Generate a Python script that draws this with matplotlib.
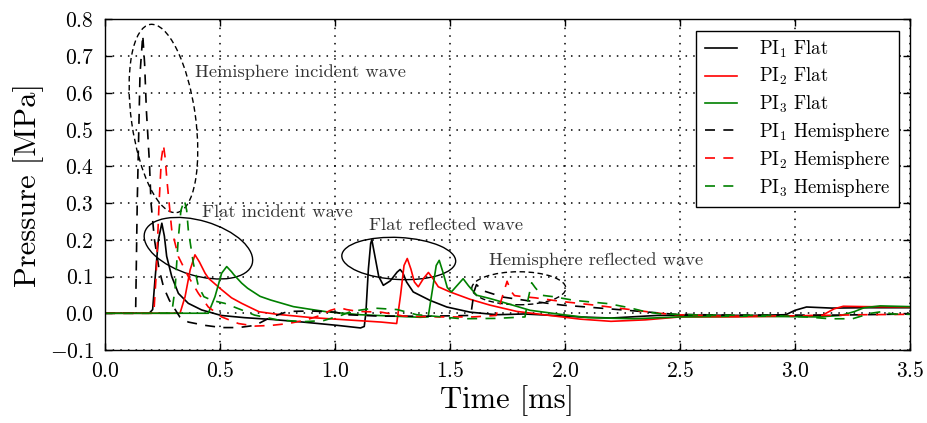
import matplotlib
matplotlib.use("Agg")
import matplotlib.pyplot as plt
from matplotlib import ticker
from matplotlib.patches import Ellipse
from matplotlib.transforms import ScaledTranslation

plt.rcParams["font.family"] = "serif"
plt.rcParams["font.serif"] = ["cmr10"]
plt.rcParams["mathtext.fontset"] = "cm"
plt.rcParams["axes.formatter.use_mathtext"] = True

# time [ms], pressure [MPa]
t_pi1_flat = [0.0, 0.192, 0.207, 0.217, 0.232, 0.247, 0.258, 0.268, 0.29, 0.319, 0.362,
              0.42, 0.505, 0.606, 0.727, 0.86, 1.01, 1.111, 1.127, 1.134, 1.145, 1.155,
              1.16, 1.172, 1.19, 1.21, 1.24, 1.27, 1.283, 1.295, 1.311, 1.34, 1.413,
              1.486, 1.587, 1.703, 1.82, 1.92, 2.06, 2.2, 2.4, 2.6, 2.8, 2.96, 3.0,
              3.05, 3.16, 3.3, 3.5]
p_pi1_flat = [0.0, 0.0, 0.01, 0.09, 0.20, 0.245, 0.21, 0.155, 0.10, 0.054, 0.027,
              0.009, -0.006, -0.012, -0.017, -0.024, -0.033, -0.040, -0.036, 0.0, 0.12, 0.19,
              0.20, 0.16, 0.10, 0.076, 0.088, 0.112, 0.119, 0.11, 0.085, 0.058, 0.035,
              0.017, 0.003, -0.004, -0.002, -0.005, -0.01, -0.013, -0.006, -0.005, -0.006, -0.004, 0.008,
              0.017, 0.014, 0.015, 0.015]

t_pi2_flat = [0.0, 0.326, 0.348, 0.37, 0.391, 0.41, 0.435, 0.45, 0.507, 0.55, 0.594, 0.63,
              0.67, 0.75, 0.9, 1.05, 1.2, 1.268, 1.285, 1.30, 1.314, 1.33, 1.345, 1.362,
              1.385, 1.406, 1.425, 1.449, 1.5, 1.587, 1.674, 1.79, 1.92, 2.065, 2.2, 2.35,
              2.5, 2.75, 3.05, 3.12, 3.17, 3.21, 3.3, 3.5]
p_pi2_flat = [0.0, 0.0, 0.045, 0.118, 0.159, 0.14, 0.109, 0.095, 0.064, 0.042, 0.027, 0.016,
              0.004, -0.003, -0.012, -0.018, -0.024, -0.028, 0.05, 0.13, 0.149, 0.12, 0.085, 0.072,
              0.095, 0.111, 0.095, 0.072, 0.058, 0.038, 0.022, 0.005, -0.005, -0.016, -0.022, -0.018,
              -0.01, -0.01, -0.007, -0.005, 0.012, 0.019, 0.018, 0.017]

t_pi3_flat = [0.0, 0.449, 0.478, 0.507, 0.529, 0.55, 0.56, 0.594, 0.62, 0.674, 0.72, 0.819,
              0.9, 0.964, 1.109, 1.37, 1.405, 1.42, 1.44, 1.453, 1.47, 1.488, 1.506, 1.53,
              1.557, 1.58, 1.616, 1.674, 1.746, 1.848, 1.993, 2.1, 2.3, 2.5, 2.8, 3.1,
              3.2, 3.26, 3.3, 3.37, 3.5]
p_pi3_flat = [0.0, 0.0, 0.045, 0.109, 0.127, 0.113, 0.105, 0.082, 0.068, 0.046, 0.036, 0.018,
              0.01, 0.004, -0.004, -0.011, -0.01, 0.05, 0.13, 0.144, 0.11, 0.07, 0.058, 0.075,
              0.094, 0.075, 0.049, 0.040, 0.027, 0.008, -0.004, -0.012, -0.015, -0.01, -0.008, -0.01,
              -0.006, 0.005, 0.015, 0.02, 0.018]

t_pi1_hemi = [0.0, 0.133, 0.14, 0.152, 0.164, 0.172, 0.18, 0.193, 0.20, 0.215, 0.235,
              0.255, 0.28, 0.31, 0.325, 0.362, 0.435, 0.507, 0.58, 0.652, 0.724, 0.797,
              0.9, 1.0, 1.05, 1.2, 1.4, 1.59, 1.605, 1.615, 1.64, 1.73, 1.85, 1.99,
              2.094, 2.27, 2.384, 2.48, 2.7, 3.0, 3.2, 3.5]
p_pi1_hemi = [0.0, 0.0, 0.3, 0.65, 0.757, 0.68, 0.55, 0.41, 0.30, 0.20, 0.12,
              0.07, 0.035, 0.005, -0.01, -0.024, -0.033, -0.039, -0.039, -0.033, -0.01, 0.005,
              0.006, 0.003, -0.004, -0.008, -0.008, -0.006, 0.06, 0.078, 0.062, 0.044, 0.033, 0.022,
              0.017, 0.008, 0.002, -0.003, -0.005, -0.005, -0.005, -0.002]

t_pi2_hemi = [0.0, 0.212, 0.222, 0.235, 0.245, 0.254, 0.262, 0.269, 0.29, 0.319, 0.362,
              0.406, 0.449, 0.507, 0.58, 0.652, 0.724, 0.797, 0.87, 0.94, 0.98, 1.02,
              1.05, 1.1, 1.2, 1.3, 1.45, 1.6, 1.7, 1.72, 1.748, 1.765, 1.78, 1.82,
              1.87, 1.95, 2.0, 2.13, 2.27, 2.41, 2.48, 2.7, 3.0, 3.3, 3.5]
p_pi2_hemi = [0.0, 0.0, 0.1, 0.3, 0.42, 0.458, 0.42, 0.363, 0.227, 0.154, 0.10,
              0.054, 0.017, -0.01, -0.028, -0.035, -0.033, -0.028, -0.019, -0.005, 0.008, 0.015,
              0.01, 0.005, 0.003, -0.008, -0.01, -0.01, -0.006, 0.03, 0.087, 0.06, 0.048, 0.045,
              0.042, 0.035, 0.031, 0.022, 0.011, 0.0, -0.004, -0.008, -0.007, -0.004, -0.003]

t_pi3_hemi = [0.0, 0.29, 0.305, 0.318, 0.33, 0.345, 0.355, 0.362, 0.384, 0.406, 0.43,
              0.465, 0.52, 0.594, 0.65, 0.75, 0.86, 0.95, 1.03, 1.07, 1.17, 1.27,
              1.355, 1.43, 1.55, 1.7, 1.826, 1.84, 1.855, 1.87, 1.898, 1.95, 2.04,
              2.19, 2.28, 2.35, 2.42, 2.6, 2.9, 3.05, 3.15, 3.25, 3.33, 3.385, 3.42, 3.5]
p_pi3_hemi = [0.0, 0.0, 0.07, 0.2, 0.28, 0.308, 0.28, 0.227, 0.136, 0.073, 0.045,
              0.035, 0.027, 0.009, -0.005, -0.018, -0.023, -0.02, -0.005, 0.005, 0.014, 0.01,
              -0.004, -0.008, -0.015, -0.014, -0.01, 0.04, 0.083, 0.07, 0.049, 0.045, 0.035,
              0.026, 0.015, 0.004, -0.002, -0.005, -0.006, -0.01, -0.015, -0.015, 0.0, 0.005, -0.002, -0.003]

labels = [r"PI$_1$ Flat", r"PI$_2$ Flat", r"PI$_3$ Flat",
          r"PI$_1$ Hemisphere", r"PI$_2$ Hemisphere", r"PI$_3$ Hemisphere"]
colors = ["k", "r", "g"]

fig = plt.figure(figsize=(9.27, 4.23), dpi=100)
ax = fig.add_axes([0.1133, 0.1726, 0.8684, 0.7818])

flat = [(t_pi1_flat, p_pi1_flat), (t_pi2_flat, p_pi2_flat), (t_pi3_flat, p_pi3_flat)]
hemi = [(t_pi1_hemi, p_pi1_hemi), (t_pi2_hemi, p_pi2_hemi), (t_pi3_hemi, p_pi3_hemi)]
for (t, p), c, lab in zip(flat, colors, labels[:3]):
    ax.plot(t, p, color=c, lw=1.2, label=lab)
for (t, p), c, lab in zip(hemi, colors, labels[3:]):
    ax.plot(t, p, color=c, lw=1.2, dashes=(6, 5), label=lab)


def add_ellipse(ax, t, p, w, h, angle, ls):
    # size in inches on screen, centre in data coordinates
    trans = fig.dpi_scale_trans + ScaledTranslation(t, p, ax.transData)
    ax.add_patch(Ellipse((0, 0), w, h, angle=angle, transform=trans,
                         fill=False, ec="k", lw=1.0, ls=ls))


add_ellipse(ax, 0.254, 0.530, 0.64, 1.90, 8, (0, (4, 2.5)))
add_ellipse(ax, 0.406, 0.177, 1.12, 0.55, -16.5, "-")
add_ellipse(ax, 1.277, 0.149, 1.14, 0.42, -3, "-")
add_ellipse(ax, 1.799, 0.068, 0.94, 0.33, 0, (0, (4, 2.5)))

ann = dict(fontsize=13.3, ha="left", va="center", color="0.2")
ax.text(0.391, 0.657, "Hemisphere incident wave", **ann)
ax.text(0.423, 0.274, "Flat incident wave", **ann)
ax.text(1.149, 0.240, "Flat reflected wave", **ann)
ax.text(1.671, 0.145, "Hemisphere reflected wave", **ann)

ax.set_xlim(0, 3.5)
ax.set_ylim(-0.1, 0.8)
ax.xaxis.set_major_locator(ticker.MultipleLocator(0.5))
ax.yaxis.set_major_locator(ticker.MultipleLocator(0.1))
fmt = ticker.FuncFormatter(lambda v, pos: f"${v:.1f}$")
ax.xaxis.set_major_formatter(fmt)
ax.yaxis.set_major_formatter(fmt)
ax.tick_params(direction="in", top=True, right=True, length=5, width=1,
               labelsize=15.5, pad=8)

ax.set_axisbelow(True)
ax.grid(color="k", ls=(0, (1, 4)), lw=1.1)
for spine in ax.spines.values():
    spine.set_linewidth(1.0)

ax.set_xlabel("Time [ms]", fontsize=22, labelpad=3)
ax.set_ylabel("Pressure [MPa]", fontsize=22)

leg = ax.legend(loc="upper right", fontsize=13.5, fancybox=False, framealpha=1,
                edgecolor="k", handlelength=1.7, handletextpad=1.2,
                labelspacing=0.32, borderaxespad=0.6, borderpad=0.45)
leg.get_frame().set_linewidth(1.0)

fig.savefig("out.png", dpi=100)
